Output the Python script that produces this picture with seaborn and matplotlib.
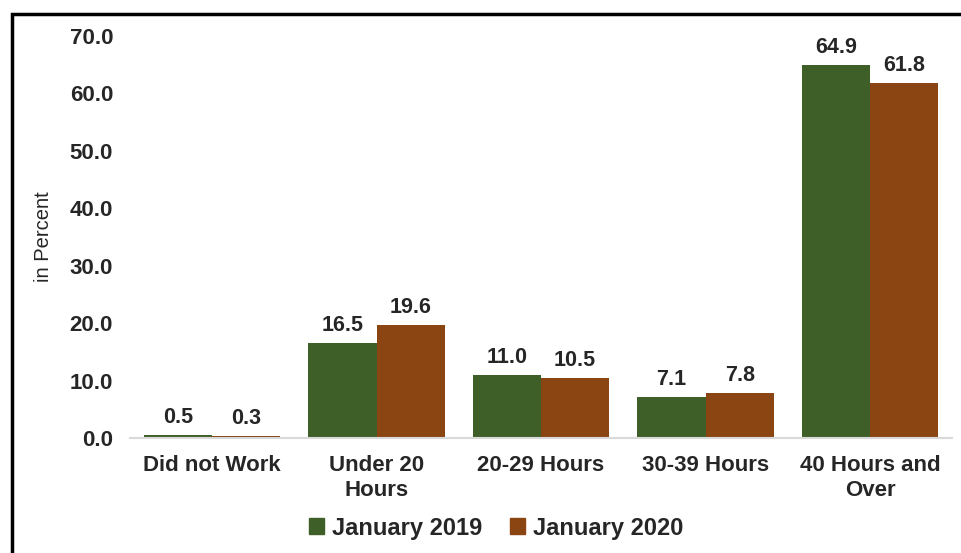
import numpy as np
import pandas as pd
import matplotlib
matplotlib.use("Agg")
import matplotlib.pyplot as plt
import matplotlib.patches as mpatches
import seaborn as sns

# ── data ─────────────────────────────────────────────────────────────────────
categories = ["Did not Work", "Under 20\nHours", "20-29 Hours", "30-39 Hours", "40 Hours and\nOver"]
jan_2019 = [0.5, 16.5, 11.0, 7.1, 64.9]
jan_2020 = [0.3, 19.6, 10.5, 7.8, 61.8]
series = ["January 2019", "January 2020"]
yticks = [0, 10, 20, 30, 40, 50, 60, 70]

GREEN = "#3f5f29"
BROWN = "#8b4513"

df = pd.DataFrame({
    "category": categories * 2,
    "value": jan_2019 + jan_2020,
    "series": [series[0]] * len(categories) + [series[1]] * len(categories),
})

# ── plot ─────────────────────────────────────────────────────────────────────
sns.set_style("white")
plt.rcParams["font.family"] = ["Liberation Sans", "DejaVu Sans"]

fig = plt.figure(figsize=(9.61, 5.53), dpi=100)
ax = fig.add_axes([0.135, 0.208, 0.856, 0.727])

sns.barplot(data=df, x="category", y="value", hue="series",
            palette=[GREEN, BROWN], width=0.83, saturation=1, linewidth=0,
            order=categories, hue_order=series, ax=ax, legend=False)

for cont in ax.containers:
    ax.bar_label(cont, labels=[f"{v:.1f}" for v in cont.datavalues],
                 padding=5, fontsize=15.5, fontweight="bold")

ax.set_ylim(0, 70)
ax.set_yticks(yticks)
ax.set_yticklabels([f"{t:.1f}" for t in yticks], fontsize=16, fontweight="bold")
ax.tick_params(axis="x", labelsize=16, length=0, pad=12)
ax.tick_params(axis="y", length=0, pad=12)
for lbl in ax.get_xticklabels():
    lbl.set_fontweight("bold")
    lbl.set_linespacing(1.3)
ax.set_xlabel("")
ax.set_ylabel("in Percent", fontsize=14.5, labelpad=12)

for side in ["top", "right", "left"]:
    ax.spines[side].set_visible(False)
ax.spines["bottom"].set_color("#d9d9d9")
ax.spines["bottom"].set_linewidth(1.5)

handles = [mpatches.Patch(color=GREEN, label=series[0]),
           mpatches.Patch(color=BROWN, label=series[1])]
fig.legend(handles=handles, loc="center", bbox_to_anchor=(496 / 961, 1 - 528 / 553),
           ncol=2, frameon=False, prop={"size": 17, "weight": "bold"},
           handlelength=0.65, handleheight=0.65, handletextpad=0.3, columnspacing=1.2)

# outer frame
frame = mpatches.Rectangle((12 / 961, -0.1), 1.2, 1.1 - 14 / 553,
                           transform=fig.transFigure, fill=False,
                           edgecolor="black", linewidth=2.5, clip_on=False)
fig.patches.append(frame)

fig.savefig("out.png", dpi=100)
